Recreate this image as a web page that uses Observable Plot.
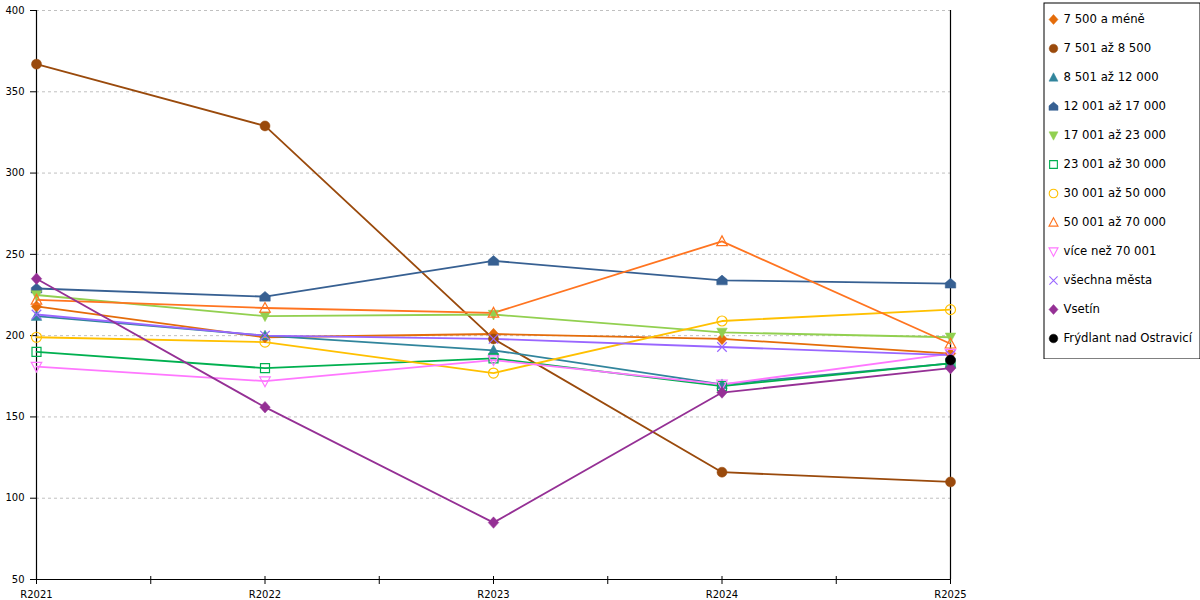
<!DOCTYPE html>
<html>
<head>
<meta charset="utf-8">
<script src="https://cdn.jsdelivr.net/npm/d3@7"></script>
<script src="https://cdn.jsdelivr.net/npm/@observablehq/plot@0.6"></script>
<style>
  body { margin: 0; background: white; }
  #wrap { position: relative; width: 1200px; height: 600px; }
  #legend { position: absolute; left: 1043px; top: 2px; line-height: 0; }
  #chart { position: absolute; left: 0; top: 0; line-height: 0; }
</style>
</head>
<body>
<div id="wrap"><div id="chart"></div><div id="legend"></div></div>
<script>
const years = ["R2021", "R2022", "R2023", "R2024", "R2025"];
const yTicks = [50, 100, 150, 200, 250, 300, 350, 400];

const seriesNames = [
  "7 500 a méně", "7 501 až 8 500", "8 501 až 12 000", "12 001 až 17 000",
  "17 001 až 23 000", "23 001 až 30 000", "30 001 až 50 000", "50 001 až 70 000",
  "více než 70 001", "všechna města", "Vsetín", "Frýdlant nad Ostravicí"
];

const v7500    = [218, 199, 201, 198, 189];
const v8500    = [367, 329, 198, 116, 110];
const v12000   = [212, 200, 191, 170, 183];
const v17000   = [229, 224, 246, 234, 232];
const v23000   = [225, 212, 213, 202, 199];
const v30000   = [190, 180, 186, 169, 183];
const v50000   = [199, 196, 177, 209, 216];
const v70000   = [222, 217, 214, 258, 195];
const vOver70  = [181, 172, 185, 170, 189];
const vAll     = [213, 200, 198, 193, 188];
const vVsetin  = [235, 156, 85, 165, 180];
const vFrydlant = [null, null, null, null, 185];

const seriesValues = [v7500, v8500, v12000, v17000, v23000, v30000, v50000, v70000, vOver70, vAll, vVsetin, vFrydlant];

const seriesColors = ["#e46c0a", "#9a4a0c", "#31859c", "#376092", "#92d050", "#00b050",
  "#ffc000", "#ff7420", "#ff77ff", "#9966ff", "#953095", "#000000"];

function poly(pts) {
  return {
    draw(ctx, size) {
      const r = Math.sqrt(size / Math.PI);
      ctx.moveTo(pts[0][0] * r, pts[0][1] * r);
      for (let k = 1; k < pts.length; k++) ctx.lineTo(pts[k][0] * r, pts[k][1] * r);
      ctx.closePath();
    }
  };
}
const symDiamond = poly([[0, -1.15], [1.05, 0], [0, 1.15], [-1.05, 0]]);
const symTriUp = poly([[0, -1.1], [1.05, 0.85], [-1.05, 0.85]]);
const symTriDown = poly([[0, 1.1], [1.05, -0.85], [-1.05, -0.85]]);
const symHouse = poly([[0, -1.05], [1.05, -0.15], [1.05, 0.9], [-1.05, 0.9], [-1.05, -0.15]]);
const symSquare = poly([[-0.9, -0.9], [0.9, -0.9], [0.9, 0.9], [-0.9, 0.9]]);
const symCircle = {
  draw(ctx, size) {
    const r = Math.sqrt(size / Math.PI);
    ctx.moveTo(r, 0);
    ctx.arc(0, 0, r, 0, 2 * Math.PI);
  }
};
const symTimes = {
  draw(ctx, size) {
    const r = Math.sqrt(size / Math.PI) * 0.95;
    ctx.moveTo(-r, -r); ctx.lineTo(r, r);
    ctx.moveTo(r, -r); ctx.lineTo(-r, r);
  }
};

const seriesSymbols = [symDiamond, symCircle, symTriUp, symHouse, symTriDown, symSquare,
  symCircle, symTriUp, symTriDown, symTimes, symDiamond, symCircle];
const seriesHollow = [false, false, false, false, false, true, true, true, true, true, false, false];

const xTicks = d3.range(0, 4.01, 0.5);

const lineMarks = [];
const dotMarks = [];
seriesNames.forEach((name, s) => {
  const data = years.map((yr, i) => ({i, v: seriesValues[s][i]})).filter(d => d.v != null);
  const color = seriesColors[s];
  if (data.length > 1) {
    lineMarks.push(Plot.line(data, {x: "i", y: "v", stroke: color, strokeWidth: 1.8}));
  }
  dotMarks.push(Plot.dot(data, {
    x: "i", y: "v", r: 5, symbol: seriesSymbols[s],
    fill: seriesHollow[s] ? "none" : color,
    stroke: color, strokeWidth: seriesHollow[s] ? 1.2 : 0.5
  }));
});

const chart = Plot.plot({
  width: 1200,
  height: 600,
  marginLeft: 36,
  marginRight: 250,
  marginTop: 10,
  marginBottom: 21,
  style: {fontFamily: "DejaVu Sans", fontSize: "10px", color: "#000", background: "white", overflow: "visible"},
  x: {type: "linear", domain: [0, 4], axis: null},
  y: {domain: [50, 400], axis: null},
  marks: [
    Plot.ruleY(yTicks.slice(1), {stroke: "#c0c0c0", strokeDasharray: "3,3", strokeWidth: 1}),
    Plot.axisY({ticks: yTicks, tickSize: 6, tickPadding: 6, anchor: "left", stroke: "#000", label: null}),
    Plot.axisX({ticks: xTicks, tickSize: 8, dy: -3, tickFormat: () => "", stroke: "#000", label: null}),
    Plot.axisX({ticks: d3.range(0, 5), tickSize: 0, tickPadding: 11, tickFormat: i => years[i], label: null}),
    Plot.ruleX([0], {stroke: "#000", strokeWidth: 1.2}),
    Plot.ruleX([4], {stroke: "#000", strokeWidth: 1.2}),
    Plot.ruleY([50], {stroke: "#000", strokeWidth: 1.2}),
    ...lineMarks,
    ...dotMarks
  ]
});
document.getElementById("chart").append(chart);

const legendMarks = [Plot.frame({stroke: "#000", strokeWidth: 1, inset: 0.5})];
seriesNames.forEach((name, s) => {
  const color = seriesColors[s];
  legendMarks.push(Plot.dot([name], {
    y: d => d, frameAnchor: "left", dx: 10, r: 4.3, symbol: seriesSymbols[s],
    fill: seriesHollow[s] ? "none" : color, stroke: color,
    strokeWidth: seriesHollow[s] ? 1.1 : 0.5
  }));
  legendMarks.push(Plot.text([name], {
    y: d => d, text: d => d, frameAnchor: "left", dx: 20, textAnchor: "start",
    fill: "#000", fontSize: 11.7
  }));
});
const legend = Plot.plot({
  width: 157,
  height: 357,
  marginTop: 0,
  marginBottom: 0,
  marginLeft: 0,
  marginRight: 0,
  style: {fontFamily: "DejaVu Sans", fontSize: "12px", color: "#000", background: "white"},
  y: {type: "point", domain: seriesNames, range: [17, 336], padding: 0, axis: null},
  marks: legendMarks
});
document.getElementById("legend").append(legend);
</script>
</body>
</html>
